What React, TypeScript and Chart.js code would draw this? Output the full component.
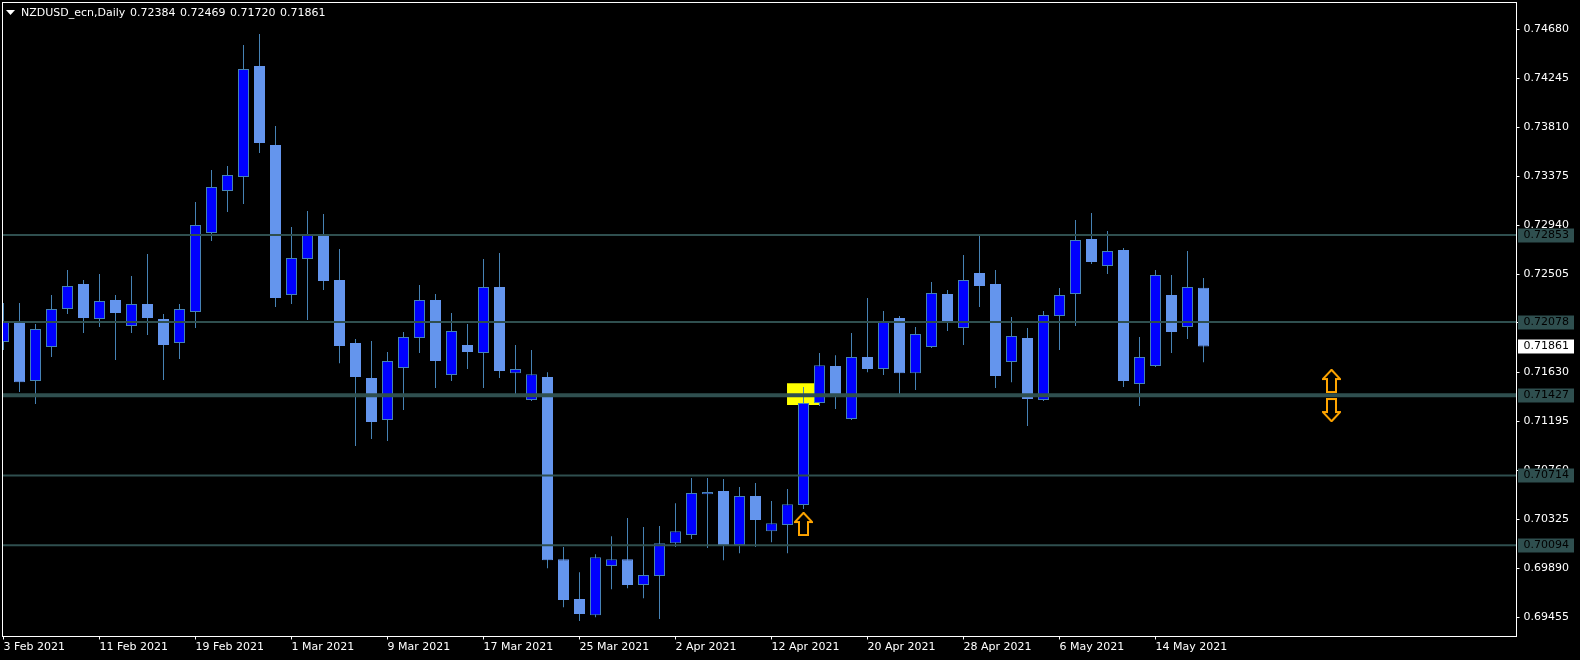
import React, { useEffect, useRef } from "react";
import { Chart, registerables } from "chart.js";

Chart.register(...registerables);

const symbolTitle = "NZDUSD_ecn,Daily";
const ohlcTitle = ["0.72384", "0.72469", "0.71720", "0.71861"];

const opens = [
  0.719, 0.72087, 0.71553, 0.71856, 0.72194, 0.72416, 0.72105, 0.72274, 0.72043, 0.72238,
  0.72105, 0.71891, 0.72167, 0.7287, 0.73243, 0.73368, 0.74355, 0.73652, 0.72319, 0.72639,
  0.72853, 0.72452, 0.71891, 0.7158, 0.71207, 0.71669, 0.71936, 0.72274, 0.71607, 0.71874,
  0.71802, 0.7239, 0.71624, 0.71385, 0.71589, 0.6997, 0.69615, 0.69472, 0.69908, 0.6997,
  0.69739, 0.69819, 0.70112, 0.70184, 0.70548, 0.70575, 0.70095, 0.70531, 0.70219, 0.70273,
  0.70451, 0.71358, 0.71687, 0.71216, 0.71767, 0.7166, 0.72114, 0.71624, 0.71856, 0.72328,
  0.72025, 0.72514, 0.72416, 0.71722, 0.71936, 0.71385, 0.72132, 0.72328, 0.72817, 0.72577,
  0.72719, 0.71527, 0.71687, 0.72319, 0.72034, 0.72384,
];
const closes = [
  0.72087, 0.71544, 0.72016, 0.72194, 0.72399, 0.72114, 0.72265, 0.72158, 0.72238, 0.72114,
  0.71874, 0.72194, 0.72942, 0.73279, 0.73386, 0.74328, 0.7367, 0.72292, 0.72648, 0.72853,
  0.72443, 0.71865, 0.71589, 0.71189, 0.71731, 0.71945, 0.72274, 0.71731, 0.71998, 0.71811,
  0.7239, 0.71642, 0.7166, 0.71615, 0.69961, 0.69606, 0.69481, 0.69987, 0.6997, 0.69739,
  0.69828, 0.70112, 0.70219, 0.70557, 0.70566, 0.70095, 0.70531, 0.70317, 0.7029, 0.70459,
  0.71358, 0.71695, 0.71438, 0.71767, 0.7166, 0.72087, 0.71624, 0.71971, 0.72336, 0.72078,
  0.72452, 0.72399, 0.71598, 0.71954, 0.71394, 0.72141, 0.72319, 0.72808, 0.72612, 0.7271,
  0.71553, 0.71767, 0.72496, 0.71989, 0.7239, 0.71861,
];
const highs = [
  0.72247, 0.72247, 0.7206, 0.72319, 0.72541, 0.72452, 0.72505, 0.72319, 0.72487, 0.72683,
  0.72149, 0.72238, 0.73146, 0.7343, 0.73466, 0.74542, 0.7464, 0.73821, 0.72924, 0.73066,
  0.73039, 0.72728, 0.71927, 0.71909, 0.71811, 0.71989, 0.72407, 0.72328, 0.72158, 0.7206,
  0.72639, 0.72692, 0.71874, 0.71829, 0.71633, 0.70077, 0.69854, 0.70014, 0.70174, 0.70335,
  0.70255, 0.70264, 0.70468, 0.70691, 0.70691, 0.70682, 0.70611, 0.70646, 0.70486, 0.70593,
  0.715, 0.71802, 0.71784, 0.7198, 0.72292, 0.72176, 0.72132, 0.72034, 0.72434, 0.72363,
  0.72675, 0.72844, 0.72541, 0.72123, 0.72025, 0.72176, 0.72381, 0.72986, 0.73048, 0.72888,
  0.72737, 0.71945, 0.72541, 0.72496, 0.7271, 0.72469,
];
const lows = [
  0.71829, 0.71456, 0.71349, 0.71767, 0.72149, 0.7198, 0.72034, 0.7174, 0.7198, 0.71963,
  0.71562, 0.71749, 0.72025, 0.72799, 0.73057, 0.73128, 0.73581, 0.72212, 0.72238, 0.72096,
  0.72363, 0.71713, 0.70976, 0.71038, 0.7102, 0.71296, 0.71802, 0.71491, 0.71553, 0.7166,
  0.71491, 0.7158, 0.71438, 0.71376, 0.6989, 0.69543, 0.69419, 0.69454, 0.69703, 0.69712,
  0.69623, 0.69437, 0.70077, 0.70148, 0.70068, 0.69961, 0.70023, 0.70077, 0.70121, 0.70023,
  0.70415, 0.71332, 0.71305, 0.71207, 0.71633, 0.71607, 0.71438, 0.71474, 0.71847, 0.71998,
  0.71874, 0.72212, 0.71491, 0.71544, 0.71154, 0.71376, 0.71829, 0.72043, 0.72594, 0.72505,
  0.715, 0.71332, 0.71678, 0.71802, 0.71927, 0.7172,
];

const dateTicks = [
  "3 Feb 2021", "11 Feb 2021", "19 Feb 2021", "1 Mar 2021", "9 Mar 2021", "17 Mar 2021",
  "25 Mar 2021", "2 Apr 2021", "12 Apr 2021", "20 Apr 2021", "28 Apr 2021", "6 May 2021", "14 May 2021",
];
const dateTickIndexes = [0, 6, 12, 18, 24, 30, 36, 42, 48, 54, 60, 66, 72];
const priceTicks = [
  0.7468, 0.74245, 0.7381, 0.73375, 0.7294, 0.72505, 0.7207, 0.7163, 0.71195, 0.7076, 0.70325, 0.6989, 0.69455,
];
const thinLevels = [0.72853, 0.72078, 0.70714, 0.70094];
const strongLevel = 0.71427;
const lastPrice = 0.71861;

const highlightIndex = 49.97;
const highlightRange = [0.71341, 0.71535];
const upArrows = [
  { x: 50, y: 0.70282 },
  { x: 83, y: 0.71554 },
];
const downArrows = [{ x: 83, y: 0.71296 }];

const xMin = -0.0625;
const xMax = 94.5625;
const yMin = 0.69282;
const yMax = 0.7492;

const FONT = '11px "DejaVu Sans"';
const TEAL = "#2F4F4F";
const BULL = "#0000FF";
const BEAR = "#6495ED";
const STEEL = "#4682B4";
const ORANGE = "#FFA500";

function makeArrow(up: boolean): HTMLCanvasElement {
  const c = document.createElement("canvas");
  c.width = 19;
  c.height = 24;
  const g = c.getContext("2d")!;
  const pts: [number, number][] = [
    [9.5, 0.8],
    [18.2, 10],
    [14, 10],
    [14, 23],
    [5, 23],
    [5, 10],
    [0.8, 10],
  ];
  g.beginPath();
  pts.forEach(([x, y], i) => {
    const yy = up ? y : 24 - y;
    if (i === 0) g.moveTo(x, yy);
    else g.lineTo(x, yy);
  });
  g.closePath();
  g.strokeStyle = ORANGE;
  g.lineWidth = 2;
  g.stroke();
  return c;
}

const overlayPlugin = {
  id: "overlay",
  afterDraw(chart: any) {
    const ctx = chart.ctx;
    const a = chart.chartArea;
    const y = chart.scales.y;
    ctx.save();
    ctx.strokeStyle = "#FFFFFF";
    ctx.lineWidth = 1;
    ctx.strokeRect(a.left, a.top, a.right - a.left, a.bottom - a.top);

    ctx.font = FONT;
    ctx.textBaseline = "middle";
    ctx.textAlign = "left";

    const tag = (v: number, bg: string) => {
      const py = Math.round(y.getPixelForValue(v));
      ctx.fillStyle = bg;
      ctx.fillRect(a.right + 1.5, py - 6.5, 56, 14);
      ctx.fillStyle = "#000000";
      ctx.fillText(v.toFixed(5), a.right + 7, py + 0.5);
    };
    [...thinLevels, strongLevel].forEach((v) => tag(v, TEAL));
    tag(lastPrice, "#FFFFFF");

    ctx.fillStyle = "#FFFFFF";
    ctx.beginPath();
    ctx.moveTo(6, 10);
    ctx.lineTo(15, 10);
    ctx.lineTo(10.5, 15);
    ctx.closePath();
    ctx.fill();
    ctx.fillText(symbolTitle, 21, 13);
    ohlcTitle.forEach((t, i) => ctx.fillText(t, 130 + i * 50, 13));
    ctx.restore();
  },
};

const zeroPadding = (s: any) => {
  s.paddingTop = 0;
  s.paddingBottom = 0;
  s.paddingLeft = 0;
  s.paddingRight = 0;
};

export default function App() {
  const ref = useRef<HTMLCanvasElement>(null);

  useEffect(() => {
    document.body.style.margin = "0";
    document.body.style.background = "#000";
    const candleX = opens.map((_, i) => i);
    const levelLine = (v: number, width: number) => ({
      type: "line" as const,
      data: [
        { x: xMin, y: v },
        { x: xMax, y: v },
      ],
      borderColor: TEAL,
      borderWidth: width,
      pointRadius: 0,
      order: 1,
    });
    const chart = new Chart(ref.current!, {
      type: "bar",
      data: {
        datasets: [
          {
            type: "bar",
            data: [{ x: highlightIndex, y: highlightRange }],
            backgroundColor: "#FFFF00",
            barThickness: 32,
            grouped: false,
            inflateAmount: 0,
            borderWidth: 0,
            order: 4,
          },
          {
            type: "bar",
            data: candleX.map((i) => ({ x: i, y: [lows[i], highs[i]] })),
            backgroundColor: STEEL,
            barThickness: 1,
            grouped: false,
            inflateAmount: 0,
            borderWidth: 0,
            order: 3,
          },
          {
            type: "bar",
            data: candleX.map((i) => ({ x: i, y: [opens[i], closes[i]] })),
            backgroundColor: (c: any) => (closes[c.dataIndex] >= opens[c.dataIndex] ? BULL : BEAR),
            borderColor: (c: any) => (closes[c.dataIndex] >= opens[c.dataIndex] ? STEEL : BEAR),
            borderWidth: 1,
            borderSkipped: false,
            barThickness: 11,
            grouped: false,
            inflateAmount: 0,
            order: 2,
          },
          ...thinLevels.map((v) => levelLine(v, 2)),
          levelLine(strongLevel, 4),
          {
            type: "line",
            data: upArrows,
            showLine: false,
            pointStyle: makeArrow(true),
            pointRadius: 10,
            order: 0,
          },
          {
            type: "line",
            data: downArrows,
            showLine: false,
            pointStyle: makeArrow(false),
            pointRadius: 10,
            order: 0,
          },
        ] as any,
      },
      options: {
        animation: false,
        responsive: false,
        devicePixelRatio: 1,
        layout: { autoPadding: false, padding: { left: 2.5, top: 2.5, right: 0, bottom: 0 } },
        plugins: { legend: { display: false }, tooltip: { enabled: false }, title: { display: false } },
        events: [],
        scales: {
          x: {
            type: "linear",
            min: xMin,
            max: xMax,
            offset: false,
            afterFit: (s: any) => {
              s.height = 23.5;
              zeroPadding(s);
            },
            afterBuildTicks: (s: any) => {
              s.ticks = dateTickIndexes.map((value) => ({ value }));
            },
            grid: { offset: false, drawOnChartArea: false, color: "#FFFFFF", tickLength: 3 },
            border: { color: "#FFFFFF" },
            ticks: {
              callback: (_: any, i: number) => dateTicks[i],
              color: "#FFFFFF",
              font: { family: "DejaVu Sans", size: 11 },
              align: "start",
              autoSkip: false,
              maxRotation: 0,
              minRotation: 0,
              padding: 1,
            },
          },
          y: {
            type: "linear",
            position: "right",
            min: yMin,
            max: yMax,
            afterFit: (s: any) => {
              s.width = 63.5;
              zeroPadding(s);
            },
            afterBuildTicks: (s: any) => {
              s.ticks = priceTicks.map((value) => ({ value }));
            },
            grid: { drawOnChartArea: false, color: "#FFFFFF", tickLength: 3 },
            border: { color: "#FFFFFF" },
            ticks: {
              callback: (v: any) => Number(v).toFixed(5),
              color: "#FFFFFF",
              font: { family: "DejaVu Sans", size: 11 },
              autoSkip: false,
              padding: 4,
            },
          },
        },
      } as any,
      plugins: [overlayPlugin],
    });
    return () => chart.destroy();
  }, []);

  return (
    <div style={{ position: "fixed", left: 0, top: 0, width: 1580, height: 660, background: "#000" }}>
      <canvas ref={ref} width={1580} height={660} style={{ display: "block" }} />
    </div>
  );
}
